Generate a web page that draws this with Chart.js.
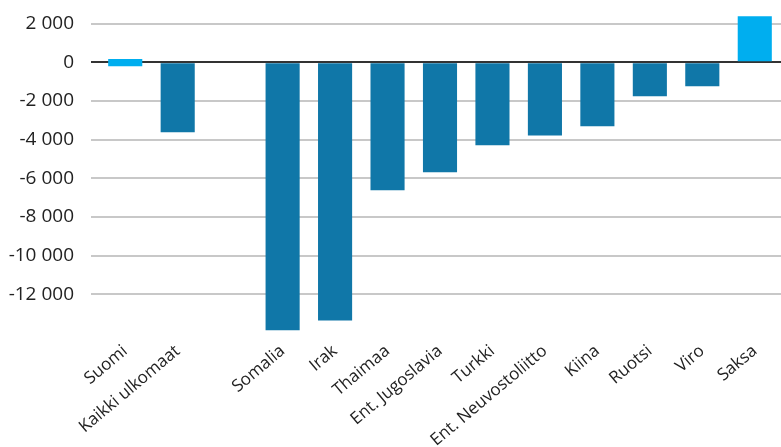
<!DOCTYPE html>
<html>
<head>
<meta charset="utf-8">
<script src="https://cdn.jsdelivr.net/npm/chart.js@4"></script>
<style>
html,body{margin:0;padding:0;background:#fff;}
#wrap{width:781px;height:447px;position:relative;}
</style>
</head>
<body>
<div id="wrap"><canvas id="c" width="781" height="447"></canvas></div>
<script>
const categories = ['Suomi','Kaikki ulkomaat','','Somalia','Irak','Thaimaa','Ent. Jugoslavia','Turkki','Ent. Neuvostoliitto','Kiina','Ruotsi','Viro','Saksa'];
const values = [[170,-200], -3620, null, -13860, -13350, -6620, -5690, -4290, -3780, -3310, -1760, -1240, 2380];
const highlighted = ['Suomi','Saksa'];
const yTicks = [2000, 0, -2000, -4000, -6000, -8000, -10000, -12000];
const yMin = -14000, yMax = 2500;

const FONT = "'Open Sans', sans-serif";
const colors = categories.map(c => highlighted.includes(c) ? '#00aeef' : '#1077a8');

function fmt(v){
  const s = Math.abs(v).toString().replace(/\B(?=(\d{3})+(?!\d))/g, ' ');
  return (v < 0 ? '-' : '') + s;
}

new Chart(document.getElementById('c'), {
  type: 'bar',
  data: {
    labels: categories,
    datasets: [{
      data: values,
      backgroundColor: colors,
      borderWidth: 0,
      barPercentage: 0.65,
      categoryPercentage: 1.0
    }]
  },
  options: {
    responsive: false,
    animation: false,
    layout: { padding: { top: 14, left: 0, right: 0, bottom: 0 } },
    plugins: { legend: { display: false }, tooltip: { enabled: false } },
    scales: {
      x: {
        grid: { display: false },
        border: { display: false },
        ticks: {
          color: '#222',
          font: { family: FONT, size: 17 },
          maxRotation: 40, minRotation: 40,
          autoSkip: false,
          padding: 0
        },
        afterFit: s => { s.height = 114; s.paddingLeft = 0; s.paddingRight = 0; }
      },
      y: {
        z: 1,
        min: yMin, max: yMax,
        border: { display: false },
        grid: {
          color: ctx => (ctx.tick && ctx.tick.value === 0) ? '#333' : '#c8c8c8',
          lineWidth: 2,
          tickLength: 8,
          drawTicks: true
        },
        ticks: {
          color: '#222',
          font: { family: FONT, size: 19 },
          padding: 17,
          callback: v => fmt(v)
        },
        afterBuildTicks: s => { s.ticks = yTicks.map(v => ({ value: v })); },
        afterFit: s => { s.width = 99; s.paddingTop = 0; s.paddingBottom = 0; }
      }
    }
  }
});
</script>
</body>
</html>
